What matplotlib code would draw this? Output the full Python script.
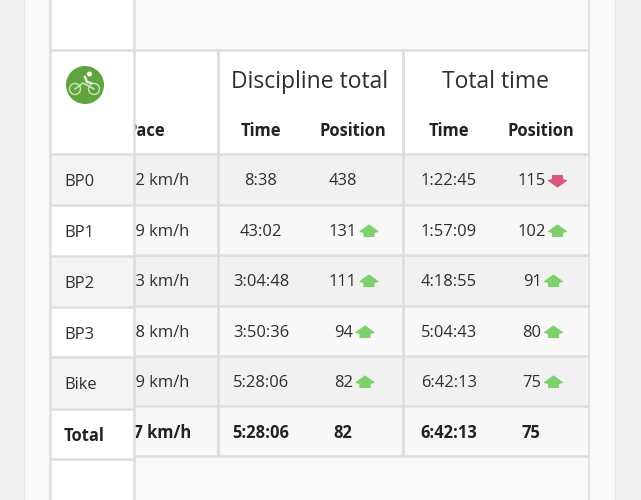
import matplotlib
matplotlib.use('Agg')
import matplotlib.pyplot as plt
from matplotlib.patches import Rectangle, Circle, Polygon

plt.rcParams['font.family'] = ['Open Sans', 'DejaVu Sans']

rows = ['BP0', 'BP1', 'BP2', 'BP3', 'Bike']
pace = ['12 km/h', '19 km/h', '23 km/h', '28 km/h', '29 km/h']
disc_time = ['8:38', '43:02', '3:04:48', '3:50:36', '5:28:06']
disc_pos = ['438', '131', '111', '94', '82']
disc_arrow = [None, 'up', 'up', 'up', 'up']
total_time = ['1:22:45', '1:57:09', '4:18:55', '5:04:43', '6:42:13']
total_pos = ['115', '102', '91', '80', '75']
total_arrow = ['down', 'up', 'up', 'up', 'up']
total_row = ['Total', '27 km/h', '5:28:06', '82', '6:42:13', '75']

LINE = '#dedede'
DARK = '#2e2e2e'
BLACK = '#222222'
FS = 11.9

fig = plt.figure(figsize=(6.41, 5), dpi=100, facecolor='#f1f1f1')
ax = fig.add_axes([0, 0, 1, 1])
ax.set_xlim(0, 641)
ax.set_ylim(500, 0)
ax.axis('off')


def box(x0, y0, x1, y1, color, z=1):
    ax.add_patch(Rectangle((x0, y0), x1 - x0, y1 - y0, fc=color, ec='none', zorder=z))


def arrow(x, y, kind):
    color = '#7ed06a' if kind == 'up' else '#d9567c'
    s = 1 if kind == 'up' else -1
    shape = [(-9, 0), (0, -6.5), (9, 0), (5, 1), (5, 5), (-5, 5), (-5, 1)]
    pts = [(x + a, y + s * b) for a, b in shape]
    ax.add_patch(Polygon(pts, closed=True, fc=color, ec=color, lw=0.8, joinstyle='round', zorder=3))


def position(center, y, label, kind):
    # the number and arrow are centred together, so shorter numbers sit further left
    right = center + 3 if len(label) == 3 else center - 1
    ax.text(right + 1, y, label, fontsize=FS, color=DARK, ha='right', va='center', zorder=4)
    if kind:
        arrow(right + 13, y - 0.5, kind)


# page background
box(24, 0, 615, 500, '#f9f9f9')
ax.plot([24, 24], [0, 500], color='#e8e8e8', lw=1, zorder=2)
ax.plot([615, 615], [0, 500], color='#e8e8e8', lw=1, zorder=2)
ax.plot([589, 589], [0, 500], color=LINE, lw=1.2, zorder=2)

# header
box(134, 51, 587, 154, 'white')

# body rows
row_tops = [155, 206, 256, 307, 357, 407]
row_h = 50
for i, top in enumerate(row_tops):
    box(134, top, 587, top + row_h, '#f1f1f1' if i % 2 == 0 else '#f8f8f8')
for y in [50, 154, 205, 255, 306, 356, 406, 456]:
    ax.plot([134, 587], [y, y], color=LINE, lw=1.8, zorder=2)
for x in [218, 403]:
    ax.plot([x, x], [50, 456], color=LINE, lw=2, zorder=2)

# sticky first column
box(50, 0, 134, 500, 'white', z=5)
left_tops = [155, 206, 257, 308, 358, 410]
for i, top in enumerate(left_tops[:5]):
    if i % 2 == 0:
        box(51, top, 134, top + 50, '#f4f4f4', z=5)
for y in [50, 154, 205, 256, 307, 357, 409, 459]:
    ax.plot([50, 134], [y, y], color=LINE, lw=1.8, zorder=6)
for x in [50, 134]:
    ax.plot([x, x], [0, 500], color=LINE, lw=1.8, zorder=6)

# bike badge
ax.add_patch(Circle((85, 85), 19, fc='#5fa43c', ec='none', zorder=7))
wheel = dict(fc='none', ec='#cfe3c2', lw=1, zorder=8)
ax.add_patch(Circle((75, 89), 5.5, **wheel))
ax.add_patch(Circle((94, 89), 5.5, **wheel))
ax.add_patch(Circle((89.5, 74), 2.5, fc='white', ec='none', zorder=8))
ax.plot([75, 83, 94], [89, 83, 89], color='#cfe3c2', lw=1.1, zorder=8)
ax.plot([85, 87, 91], [77, 82, 83], color='#e4efdc', lw=1.8, zorder=8)

# headings
ax.text(310, 82, 'Discipline total', fontsize=16.5, color=DARK, ha='center', va='center', zorder=4)
ax.text(496, 82, 'Total time', fontsize=16.5, color=DARK, ha='center', va='center', zorder=4)
for x, t, ha in [(165, 'Pace', 'right'), (261, 'Time', 'center'), (353, 'Position', 'center'),
                 (449, 'Time', 'center'), (541, 'Position', 'center')]:
    ax.text(x, 131, t, fontsize=FS, fontweight='bold', color=BLACK, ha=ha, va='center', zorder=4)

# body text
for i, top in enumerate(row_tops[:5]):
    y = top + 26
    ax.text(64, left_tops[i] + 27, rows[i], fontsize=FS, color=DARK, va='center', zorder=7)
    ax.text(189, y, pace[i], fontsize=FS, color=DARK, ha='right', va='center', zorder=4)
    ax.text(261, y, disc_time[i], fontsize=FS, color=DARK, ha='center', va='center', zorder=4)
    position(353, y, disc_pos[i], disc_arrow[i])
    ax.text(449, y, total_time[i], fontsize=FS, color=DARK, ha='center', va='center', zorder=4)
    position(541.5, y, total_pos[i], total_arrow[i])

# total row
y = row_tops[5] + 26
ax.text(64, left_tops[5] + 26, total_row[0], fontsize=FS, fontweight='bold', color=BLACK, va='center', zorder=7)
for x, t, ha in zip([191, 261, 343, 449, 531], total_row[1:], ['right', 'center', 'center', 'center', 'center']):
    ax.text(x, y, t, fontsize=FS, fontweight='bold', color=BLACK, ha=ha, va='center', zorder=4)

fig.savefig('out.png', dpi=100, facecolor=fig.get_facecolor())
